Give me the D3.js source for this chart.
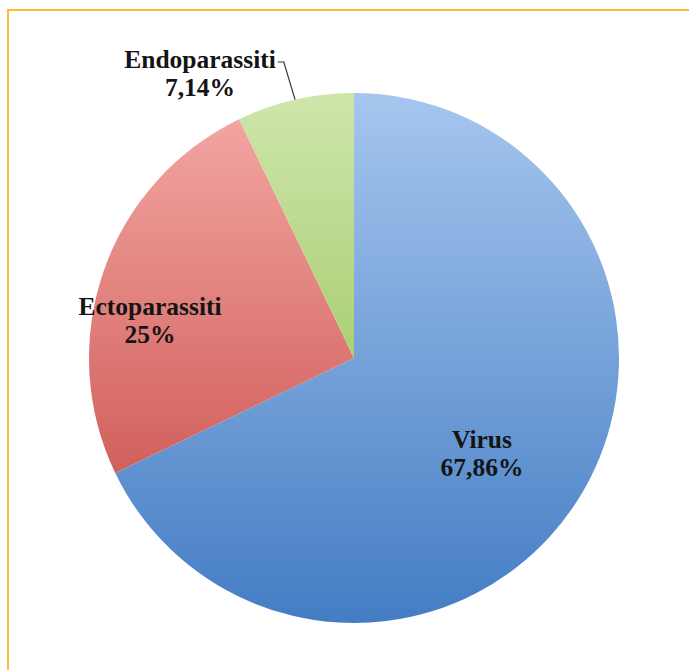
<!DOCTYPE html>
<html>
<head>
<meta charset="utf-8">
<script src="https://cdn.jsdelivr.net/npm/d3@7/dist/d3.min.js"></script>
<style>
  html, body { margin: 0; padding: 0; background: #fff; }
  svg { display: block; }
  .lbl { font-family: "Liberation Serif", "DejaVu Serif", serif; font-weight: bold; font-size: 25.5px; fill: #141414; }
</style>
</head>
<body>
<div id="chart"></div>
<script>
// chart data
const categories = ["Virus", "Ectoparassiti", "Endoparassiti"];
const values = [67.86, 25, 7.14];
const percentLabels = ["67,86%", "25%", "7,14%"];

const width = 689, height = 670;
const cx = 354, cy = 358, radius = 265;

// top -> bottom gradients, one per slice
const gradStops = [
  ["#a6c6ee", "#447dc4"],
  ["#f4aaa6", "#c4433f"],
  ["#cfe6ab", "#86b83e"]
];

let svg = d3.select("#chart")
  .append("svg")
  .attr("width", width)
  .attr("height", height);

// frame
svg.append("rect")
  .attr("x", 8).attr("y", 10)
  .attr("width", 720).attr("height", 720)
  .attr("fill", "none")
  .attr("stroke", "#fcbc3a")
  .attr("stroke-width", 2);

let defs = svg.append("defs");
gradStops.forEach(function (s, i) {
  // userSpaceOnUse -> coordinates of the translated pie group
  let g = defs.append("linearGradient")
    .attr("id", "grad" + i)
    .attr("gradientUnits", "userSpaceOnUse")
    .attr("x1", 0).attr("x2", 0)
    .attr("y1", -radius).attr("y2", radius);
  g.append("stop").attr("offset", "0%").attr("stop-color", s[0]);
  g.append("stop").attr("offset", "100%").attr("stop-color", s[1]);
});

let pie = d3.pie().sort(null).value(function (d) { return d; });
let arcs = pie(values);
let arc = d3.arc().innerRadius(0).outerRadius(radius);

let g = svg.append("g").attr("transform", "translate(" + cx + "," + cy + ")");

g.selectAll("path.slice")
  .data(arcs)
  .enter().append("path")
  .attr("class", "slice")
  .attr("d", arc)
  .attr("fill", function (d, i) { return "url(#grad" + i + ")"; });

// label placement relative to pie centre (first-line baseline)
const labelOffsets = [[128, 90], [-204, -43], [-154, -290]];

arcs.forEach(function (d, i) {
  let off = labelOffsets[i];
  let t = g.append("text")
    .attr("class", "lbl")
    .attr("text-anchor", "middle")
    .attr("x", off[0]).attr("y", off[1]);
  t.append("tspan").attr("x", off[0]).text(categories[i]);
  t.append("tspan").attr("x", off[0]).attr("dy", 28).text(percentLabels[i]);

  // leader line for the small outside label
  if (i === 2) {
    let w = t.select("tspan").node().getComputedTextLength();
    let mid = (d.startAngle + d.endAngle) / 2;
    let ex = radius * Math.sin(mid), ey = -radius * Math.cos(mid);
    let sx = off[0] + w / 2 + 2, sy = off[1] - 6;
    g.append("polyline")
      .attr("points", [[sx, sy], [sx + 6, sy], [ex, ey]].map(function (p) { return p.join(","); }).join(" "))
      .attr("fill", "none")
      .attr("stroke", "#333")
      .attr("stroke-width", 1.2);
  }
});
</script>
</body>
</html>
